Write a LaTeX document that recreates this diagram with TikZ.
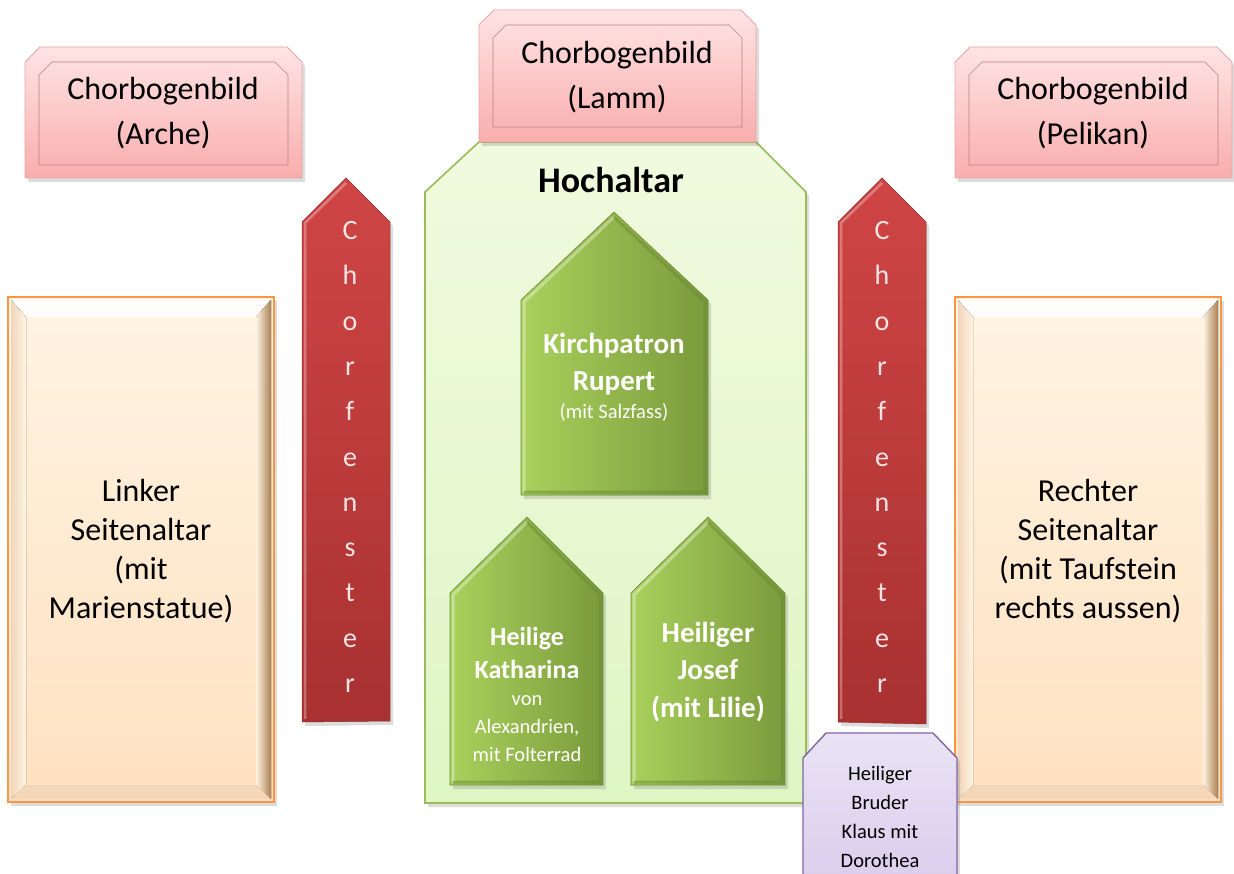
\documentclass[tikz,border=0pt]{standalone}
\usepackage{fontspec}
\setmainfont{Carlito}
\usetikzlibrary{shadows}
\definecolor{pinkTop}{HTML}{FFE4E4}
\definecolor{pinkBot}{HTML}{F9ADAD}
\definecolor{pinkLine}{HTML}{E9A3A3}
\definecolor{hochTop}{HTML}{F0FADF}
\definecolor{hochBot}{HTML}{DFF6C4}
\definecolor{hochLine}{HTML}{9BBB59}
\definecolor{grL}{HTML}{A9D15C}
\definecolor{grR}{HTML}{7B9A3C}
\definecolor{grLine}{HTML}{6C8A36}
\definecolor{redTop}{HTML}{D04545}
\definecolor{redBot}{HTML}{A83131}
\definecolor{redLine}{HTML}{8E2A2A}
\definecolor{orTop}{HTML}{FFF4E3}
\definecolor{orBot}{HTML}{FFE1C0}
\definecolor{orLine}{HTML}{F79646}
\definecolor{puTop}{HTML}{EAE3F5}
\definecolor{puBot}{HTML}{D9CDEC}
\definecolor{puLine}{HTML}{8064A2}
\definecolor{redTxt}{HTML}{F8E4E4}
\tikzset{
  shd/.style={drop shadow={shadow xshift=3pt,shadow yshift=-4pt,opacity=0.28}},
  pinkbox/.style={shd,top color=pinkTop,bottom color=pinkBot,draw=pinkLine,line width=0.8pt},
  pinkinner/.style={draw=pinkLine!80!black,line width=0.6pt},
  hochbox/.style={shd,top color=hochTop,bottom color=hochBot,draw=hochLine,line width=1.6pt},
  greenhouse/.style={shd,left color=grL,right color=grR,draw=grLine,line width=0.6pt},
  redarrow/.style={shd,top color=redTop,bottom color=redBot,draw=redLine,line width=0.5pt},
  orbox/.style={shd,top color=orTop,bottom color=orBot,draw=orLine,line width=1.6pt},
  pubox/.style={shd,top color=puTop,bottom color=puBot,draw=puLine,line width=1.4pt},
  pinktxt/.style={align=center,font=\fontsize{32}{45}\selectfont},
  ortxt/.style={align=center,font=\fontsize{32}{39}\selectfont},
  whitebold/.style={align=center,text=white,font=\bfseries\fontsize{29}{37}\selectfont},
  whitesmall/.style={align=center,text=white,font=\fontsize{20.5}{28}\selectfont},
  redtxt/.style={align=center,text=redTxt,font=\fontsize{28}{45.3}\selectfont},
}
\begin{document}
\begin{tikzpicture}[x=1pt,y=-1pt]
\useasboundingbox (0,0) rectangle (1234,874);
\clip (0,0) rectangle (1234,874);

% ---------- Hochaltar (green background) ----------
\path[hochbox] (479,142)--(756,142)--(806,192)--(806,803)--(425,803)--(425,192)--cycle;
\node[font=\bfseries\fontsize{36}{40}\selectfont] (hoch) at (611,180) {Hochaltar};

% ---------- Pink Chorbogenbild boxes ----------
\foreach \dx/\dy in {0/0,930/0}{
  \begin{scope}[shift={(\dx,\dy)}]
  \path[pinkbox] (25,62)--(40,47)--(287,47)--(302,62)--(302,178)--(25,178)--cycle;
  \draw[pinkinner] (39,75)--(52,62)--(275,62)--(288,75)--(288,165)--(39,165)--cycle;
  \end{scope}
}
\path[pinkbox] (479,25)--(494,10)--(741,10)--(756,25)--(756,142)--(479,142)--cycle;
\draw[pinkinner] (493,38)--(506,25)--(729,25)--(742,38)--(742,127)--(493,127)--cycle;
\node[pinktxt] (arche) at (163,113) {Chorbogenbild\\(Arche)};
\node[pinktxt] (lamm) at (617,77) {Chorbogenbild\\(Lamm)};
\node[pinktxt] (pelikan) at (1093,113) {Chorbogenbild\\(Pelikan)};

% ---------- Green houses ----------
\path[greenhouse] (614,212)--(708,300)--(708,495)--(521,495)--(521,300)--cycle;
\path[greenhouse] (527,517)--(603,593)--(603,785)--(450,785)--(450,593)--cycle;
\path[greenhouse] (708,517)--(785,593)--(785,785)--(631,785)--(631,593)--cycle;
% bevels
\draw[white,opacity=0.35,line width=3pt] (524,492)--(524,302)--(614,217);
\draw[white,opacity=0.35,line width=3pt] (453,782)--(453,595)--(527,522);
\draw[white,opacity=0.35,line width=3pt] (634,782)--(634,595)--(708,522);
\draw[grLine,opacity=0.5,line width=3pt] (614,217)--(705,302)--(705,492)--(524,492);
\draw[grLine,opacity=0.5,line width=3pt] (527,522)--(600,595)--(600,782)--(453,782);
\draw[grLine,opacity=0.5,line width=3pt] (708,522)--(782,595)--(782,782)--(634,782);

\node[whitebold] (rupert) at (614,364) {Kirchpatron\\Rupert};
\node[whitesmall] (salz) at (614,412) {(mit Salzfass)};
\node[whitebold,font=\bfseries\fontsize{26}{33}\selectfont] (kath) at (527,653) {Heilige\\Katharina};
\node[whitesmall] (kathsmall) at (527,729) {von\\Alexandrien,\\mit Folterrad};
\node[whitebold,font=\bfseries\fontsize{29}{37.5}\selectfont] (josef) at (708,672) {Heiliger\\Josef\\(mit Lilie)};

% ---------- Red Chorfenster arrows ----------
\path[redarrow] (346,178)--(390,222)--(390,721)--(302,722)--(302,222)--cycle;
\path[redarrow] (882,178)--(926,222)--(926,724)--(838,722)--(838,222)--cycle;
\draw[white,opacity=0.3,line width=2.5pt] (305,719)--(305,223)--(346,183);
\draw[white,opacity=0.3,line width=2.5pt] (841,719)--(841,223)--(882,183);
\node[redtxt] (cfl) at (350,457) {C\\h\\o\\r\\f\\e\\n\\s\\t\\e\\r};
\node[redtxt] (cfr) at (882,457) {C\\h\\o\\r\\f\\e\\n\\s\\t\\e\\r};

% ---------- Orange side altars ----------
\foreach \ox in {8,955}{
  \begin{scope}[shift={(\ox,297)}]
  \path[orbox] (0,0) rectangle (266,505);
  \fill[white,opacity=0.9] (3,3)--(263,3)--(248,20)--(18,20)--cycle;
  \fill[left color=orBot!60!brown!60,right color=orTop] (3,3)--(18,20)--(18,488)--(3,502)--cycle;
  \fill[left color=orTop,right color=brown!70!gray] (263,3)--(263,502)--(248,488)--(248,20)--cycle;
  \fill[orBot!70!brown!70,opacity=0.8] (3,502)--(18,488)--(248,488)--(263,502)--cycle;
  \end{scope}
}
\node[ortxt] (links) at (141,551) {Linker\\Seitenaltar\\(mit\\Marienstatue)};
\node[ortxt] (rechts) at (1088,551) {Rechter\\Seitenaltar\\(mit Taufstein\\rechts aussen)};

% ---------- Purple box ----------
\path[pubox] (803,758)--(826,733)--(933,733)--(957,758)--(957,890)--(803,890)--cycle;
\node[align=center,font=\fontsize{20.5}{29}\selectfont] (klaus) at (880,817) {Heiliger\\Bruder\\Klaus mit\\Dorothea};
\end{tikzpicture}
\end{document}
